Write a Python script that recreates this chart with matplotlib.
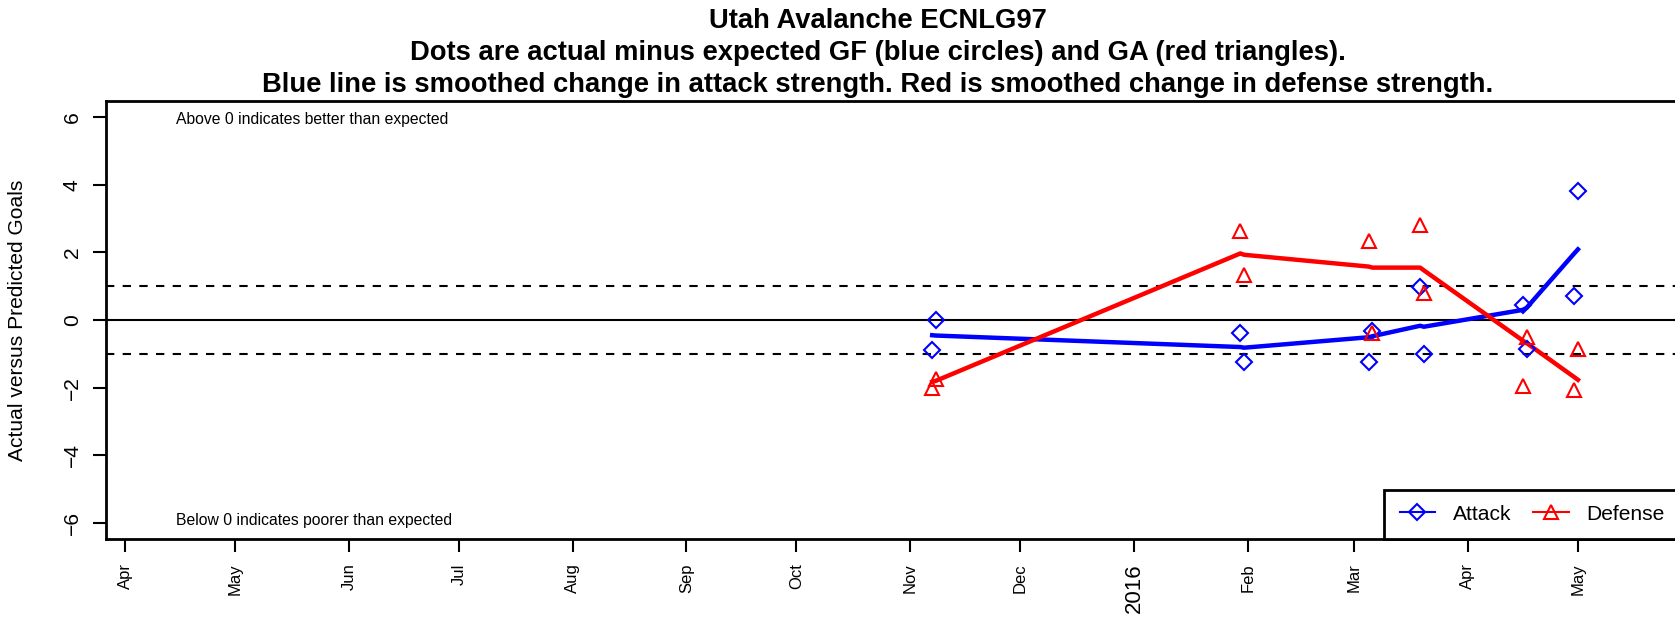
import matplotlib
matplotlib.use("Agg")
import matplotlib.pyplot as plt
from matplotlib import font_manager
from matplotlib.lines import Line2D
import pandas as pd

names = {f.name for f in font_manager.fontManager.ttflist}
NARROW = 'Liberation Sans Narrow' in names
if NARROW:
    plt.rcParams['font.family'] = ['Liberation Sans Narrow', 'Liberation Sans', 'DejaVu Sans']
    k = 1.0
else:
    plt.rcParams['font.family'] = ['Liberation Sans', 'DejaVu Sans']
    k = 0.82

# ---- data ----
game_dates = ['2015-11-07', '2015-11-08', '2016-01-30', '2016-01-31',
              '2016-03-05', '2016-03-06', '2016-03-19', '2016-03-20',
              '2016-04-16', '2016-04-17', '2016-04-30', '2016-05-01']
attack_resid = [-0.88, 0.00, -0.37, -1.23, -1.23, -0.34, 0.98, -1.00, 0.44, -0.87, 0.72, 3.81]
defense_resid = [-2.00, -1.75, 2.63, 1.33, 2.34, -0.37, 2.80, 0.79, -1.94, -0.49, -2.07, -0.87]
attack_smooth = [-0.45, -0.46, -0.80, -0.82, -0.51, -0.48, -0.17, -0.20, 0.30, 0.36, 1.97, 2.09]
defense_smooth = [-1.83, -1.80, 1.97, 1.93, 1.58, 1.55, 1.55, 1.47, -0.61, -0.68, -1.69, -1.77]

month_ticks = pd.date_range('2015-04-01', '2016-05-01', freq='MS')
month_labels = ['Apr', 'May', 'Jun', 'Jul', 'Aug', 'Sep', 'Oct', 'Nov', 'Dec',
                '2016', 'Feb', 'Mar', 'Apr', 'May']
y_ticks = [-6, -4, -2, 0, 2, 4, 6]

title_lines = ["Utah Avalanche ECNLG97",
               "Dots are actual minus expected GF (blue circles) and GA (red triangles).",
               "Blue line is smoothed change in attack strength. Red is smoothed change in defense strength."]

dates = pd.to_datetime(game_dates)

base = 18.5 * k
W, H = 1675, 618
fig = plt.figure(figsize=(W / 100, H / 100), dpi=100)
left, right, top, bottom = 106, 1680, 101, 539
ax = fig.add_axes([left / W, 1 - bottom / H, (right - left) / W, (bottom - top) / H])

blue = '#0000FF'
red = '#FF0000'

ax.axhline(0, color='black', lw=1.5, zorder=1)
ax.axhline(1, color='black', lw=1.5, dashes=(4, 4), zorder=1)
ax.axhline(-1, color='black', lw=1.5, dashes=(4, 4), zorder=1)

ax.plot(dates, attack_resid, linestyle='none', marker='D', ms=8, mfc='none',
        mec=blue, mew=1.5, zorder=3)
ax.plot(dates, defense_resid, linestyle='none', marker='^', ms=10, mfc='none',
        mec=red, mew=1.5, zorder=3)
ax.plot(dates, attack_smooth, color=blue, lw=3.2, zorder=2, solid_joinstyle='round')
ax.plot(dates, defense_smooth, color=red, lw=3.2, zorder=2, solid_joinstyle='round')

x0 = pd.Timestamp('2015-04-01') + pd.Timedelta(days=(left - 125) / 3.669)
x1 = pd.Timestamp('2015-04-01') + pd.Timedelta(days=(right - 125) / 3.669)
ax.set_xlim(x0, x1)
ax.set_ylim(-6.48, 6.48)

ax.set_xticks(month_ticks)
ax.set_xticklabels(month_labels, rotation=90, fontsize=12 * k / 0.82)
for lab in ax.get_xticklabels():
    if lab.get_text() == '2016':
        lab.set_fontsize(16 * k / 0.82)
ax.set_yticks(y_ticks)
ax.set_yticklabels([str(v).replace('-', '\u2212') for v in y_ticks], rotation=90,
                   va='center', fontsize=base)
ax.tick_params(axis='both', length=9.5, width=1.5, direction='out')
ax.tick_params(axis='x', pad=8)
ax.tick_params(axis='y', pad=8)
ax.set_ylabel('Actual versus Predicted Goals', fontsize=base)
ax.yaxis.label.set_va('center')
ax.yaxis.set_label_coords((17.5 - left) / (right - left), 0.5)

for s in ['top', 'left', 'bottom', 'right']:
    ax.spines[s].set_linewidth(2)

ax.text(pd.Timestamp('2015-04-15'), 5.93, 'Above 0 indicates better than expected',
        fontsize=base * 0.75, va='center', ha='left')
ax.text(pd.Timestamp('2015-04-15'), -5.92, 'Below 0 indicates poorer than expected',
        fontsize=base * 0.75, va='center', ha='left')

handles = [Line2D([], [], color=blue, marker='D', ms=8, mfc='none', mew=1.5, lw=1.5),
           Line2D([], [], color=red, marker='^', ms=10, mfc='none', mew=1.5, lw=1.5)]
leg = ax.legend(handles, ['Attack', 'Defense'], loc='lower right', ncol=2,
                fontsize=base, frameon=True, fancybox=False, edgecolor='black',
                framealpha=1, borderaxespad=0, handlelength=1.7,
                columnspacing=1.0, handletextpad=0.85, borderpad=0.72)
leg.get_frame().set_linewidth(2)

tsize = 24.1 * k
cap = tsize / 72 * 100 * 0.716
for t, yc in zip(title_lines, [18, 50, 82]):
    fig.text(878 / W, 1 - (yc + cap / 2) / H, t,
             ha='center', va='baseline', fontsize=tsize, fontweight='bold')

fig.savefig('out.png', dpi=100)
